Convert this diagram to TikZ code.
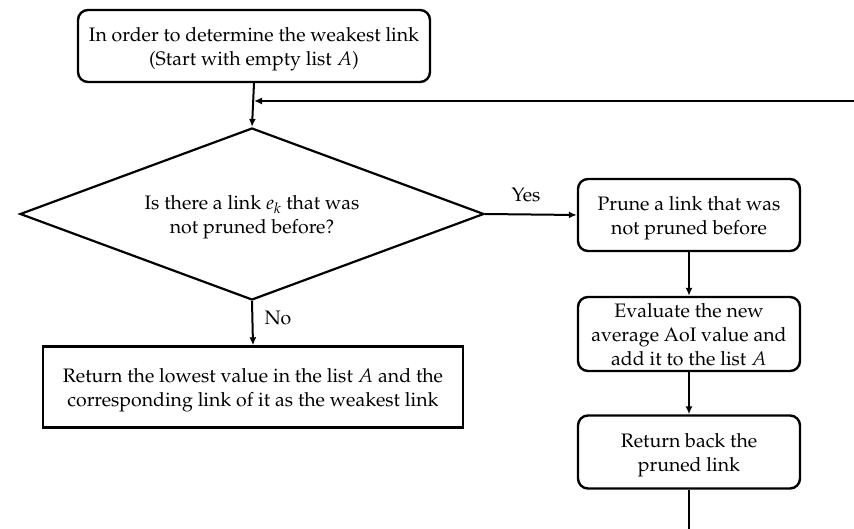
\documentclass[tikz,border=0pt]{standalone}
\usepackage[T1]{fontenc}
\usepackage{mathpazo}
\usetikzlibrary{shapes.geometric,arrows.meta}
\newcommand{\dntext}[1]{\raisebox{-3pt}[\height][\depth]{\begin{tabular}{@{}c@{}}#1\end{tabular}}}
\begin{document}
\begin{tikzpicture}[x=1pt,y=-1pt,
  every node/.style={font=\fontsize{19.5}{24}\selectfont},
  rbox/.style={draw,line width=2.4pt,rounded corners=10pt,align=center,inner sep=0pt},
  sbox/.style={draw,line width=2.4pt,align=center,inner sep=0pt},
  dbox/.style={draw,diamond,aspect=2.7,line width=2.2pt,align=center,inner sep=0pt},
  arr/.style={line width=2pt,-{Latex[length=8pt,width=7pt]}},
  ln/.style={line width=2pt},
  lbl/.style={inner sep=0pt}]
\clip (0,0) rectangle (854,529);
\useasboundingbox (0,0) rectangle (854,529);
\node[rbox,minimum width=352pt,minimum height=72pt] (start) at (254,46)
  {\dntext{In order to determine the weakest link\\(Start with empty list $A$)}};
\node[dbox,minimum width=464pt,minimum height=172pt] (q) at (252,214)
  {\dntext{Is there a link $e_k$ that was\\not pruned before?}};
\node[rbox,minimum width=222pt,minimum height=72pt] (prune) at (689,215)
  {\dntext{Prune a link that was\\not pruned before}};
\node[rbox,minimum width=222pt,minimum height=74pt] (eval) at (689,334)
  {\dntext{Evaluate the new\\average AoI value and\\add it to the list $A$}};
\node[rbox,minimum width=222pt,minimum height=73pt] (back) at (689,452)
  {\dntext{Return back the\\pruned link}};
\node[sbox,minimum width=420pt,minimum height=81pt] (res) at (253,387)
  {\dntext{Return the lowest value in the list $A$ and the\\corresponding link of it as the weakest link}};
\coordinate (loopR) at (870,101);
\coordinate (bot) at (689,540);
\draw[arr] (start.south) -- (q.north);
\draw[arr] (loopR) -- (loopR -| start.south);
\draw[arr] (q.east) -- node[lbl,above=12pt,xshift=-5pt] (yes) {Yes} (prune.west);
\draw[arr] (q.south) -- node[lbl,right=11pt,yshift=5pt] (no) {No} (res.north);
\draw[arr] (prune.south) -- (eval.north);
\draw[arr] (eval.south) -- (back.north);
\draw[ln] (back.south) -- (bot);
\end{tikzpicture}
\end{document}
